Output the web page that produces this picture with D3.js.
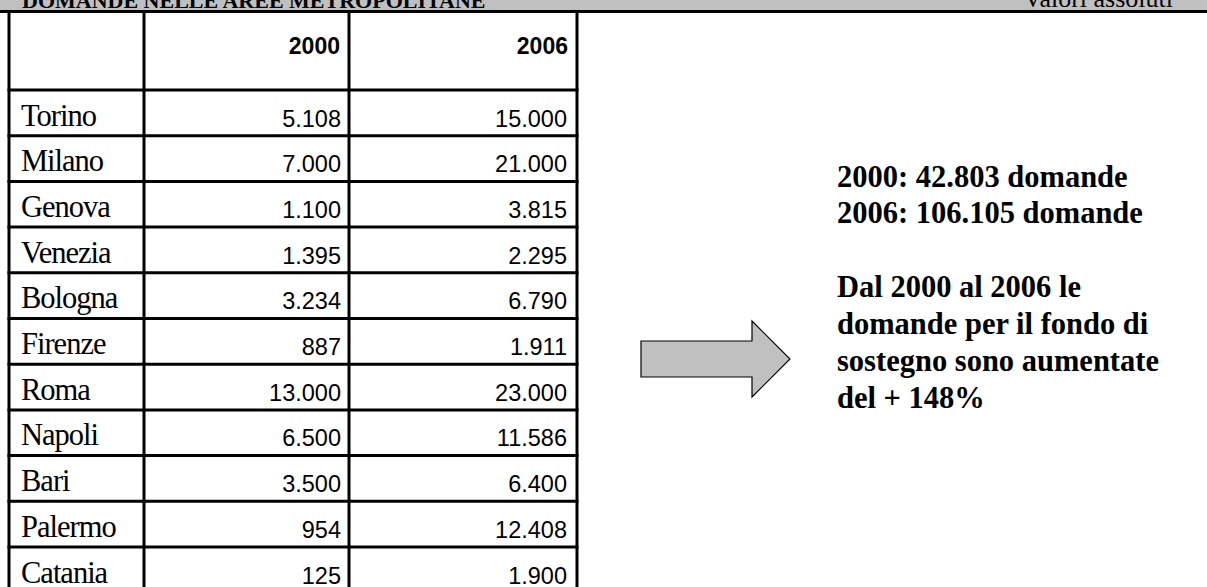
<!DOCTYPE html>
<html>
<head>
<meta charset="utf-8">
<script src="https://cdn.jsdelivr.net/npm/d3@7"></script>
<style>
    body { margin: 0; background: #fff; }
    svg { display: block; }
</style>
</head>
<body>
<svg id="chart" width="1207" height="587"></svg>
<script>
const title = "DOMANDE NELLE AREE METROPOLITANE";
const unitLabel = "Valori assoluti";
const years = ["2000", "2006"];
const cities = ["Torino", "Milano", "Genova", "Venezia", "Bologna", "Firenze", "Roma", "Napoli", "Bari", "Palermo", "Catania"];
const values2000 = [5108, 7000, 1100, 1395, 3234, 887, 13000, 6500, 3500, 954, 125];
const values2006 = [15000, 21000, 3815, 2295, 6790, 1911, 23000, 11586, 6400, 12408, 1900];

const itLocale = d3.formatLocale({ decimal: ",", thousands: ".", grouping: [3], currency: ["€", ""] });
const fmt = itLocale.format(",d");

const total2000 = d3.sum(values2000);
const total2006 = d3.sum(values2006);
const growth = Math.round((total2006 / total2000 - 1) * 100);

const summaryLines = [
    `2000: ${fmt(total2000)} domande`,
    `2006: ${fmt(total2006)} domande`,
    "",
    "Dal 2000 al 2006 le",
    "domande per il fondo di",
    "sostegno sono aumentate",
    `del + ${growth}%`
];

const rows = cities.map((c, i) => ({ city: c, v2000: values2000[i], v2006: values2006[i] }));

const svg = d3.select("#chart");
const width = 1207;

// top banner (title is cut by the top edge, as in the source page)
svg.append("rect")
    .attr("x", 0).attr("y", 0)
    .attr("width", width).attr("height", 11)
    .attr("fill", "#c0c0c0");

svg.append("text")
    .attr("x", 22).attr("y", 8)
    .attr("font-family", "'Liberation Serif', 'Times New Roman', serif")
    .attr("font-weight", "bold")
    .attr("font-size", 22)
    .text(title);

svg.append("text")
    .attr("x", 1173).attr("y", 7)
    .attr("text-anchor", "end")
    .attr("font-family", "'Liberation Serif', 'Times New Roman', serif")
    .attr("font-size", 26)
    .text(unitLabel);

svg.append("line")
    .attr("x1", 0).attr("x2", width)
    .attr("y1", 11.5).attr("y2", 11.5)
    .attr("stroke", "#000")
    .attr("stroke-width", 3);

// table
const colEdges = [9, 144, 349, 577];
const tableTop = 12;
const headerBottom = 90;
const rowHeight = 45.7;

const y = d3.scaleBand()
    .domain(cities)
    .range([headerBottom, headerBottom + rowHeight * cities.length]);

const g = svg.append("g");

g.selectAll(".year")
    .data(years)
    .enter()
    .append("text")
    .attr("class", "year")
    .attr("x", (d, i) => colEdges[i + 2] - 9)
    .attr("y", 54)
    .attr("text-anchor", "end")
    .attr("font-family", "'Liberation Sans', Arial, sans-serif")
    .attr("font-weight", "bold")
    .attr("font-size", 23)
    .text(d => d);

const rowG = g.selectAll(".row")
    .data(rows)
    .enter()
    .append("g")
    .attr("class", "row")
    .attr("transform", d => `translate(0,${y(d.city)})`);

rowG.append("text")
    .attr("x", colEdges[0] + 12)
    .attr("y", 35.5)
    .attr("font-family", "'Liberation Serif', 'Times New Roman', serif")
    .attr("font-size", 30.5)
    .attr("letter-spacing", -1)
    .text(d => d.city);

rowG.append("text")
    .attr("x", colEdges[2] - 8)
    .attr("y", 36.5)
    .attr("text-anchor", "end")
    .attr("font-family", "'Liberation Sans', Arial, sans-serif")
    .attr("font-size", 23.5)
    .text(d => fmt(d.v2000));

rowG.append("text")
    .attr("x", colEdges[3] - 10)
    .attr("y", 36.5)
    .attr("text-anchor", "end")
    .attr("font-family", "'Liberation Sans', Arial, sans-serif")
    .attr("font-size", 23.5)
    .text(d => fmt(d.v2006));

// grid lines
const tableBottom = y.range()[1];
g.selectAll(".hline")
    .data([headerBottom].concat(cities.map(c => y(c) + y.bandwidth())))
    .enter()
    .append("line")
    .attr("class", "hline")
    .attr("x1", colEdges[0] - 1.5).attr("x2", colEdges[3] + 1.5)
    .attr("y1", d => d).attr("y2", d => d)
    .attr("stroke", "#000")
    .attr("stroke-width", 3);

g.selectAll(".vline")
    .data(colEdges)
    .enter()
    .append("line")
    .attr("class", "vline")
    .attr("x1", d => d).attr("x2", d => d)
    .attr("y1", tableTop).attr("y2", tableBottom)
    .attr("stroke", "#000")
    .attr("stroke-width", 3);

// arrow
const arrow = [[641, 341], [752, 341], [752, 321], [790, 359], [752, 397], [752, 377], [641, 377]];
svg.append("path")
    .attr("d", d3.line()(arrow) + "Z")
    .attr("fill", "#c0c0c0")
    .attr("stroke", "#000")
    .attr("stroke-width", 1.2);

// summary text
const summary = svg.append("text")
    .attr("font-family", "'Liberation Serif', 'Times New Roman', serif")
    .attr("font-weight", "bold")
    .attr("font-size", 30.5);

const baselines = [187, 223, 0, 297, 334, 371, 408];
summary.selectAll("tspan")
    .data(summaryLines)
    .enter()
    .filter(d => d !== "")
    .append("tspan")
    .attr("x", 837)
    .attr("y", d => baselines[summaryLines.indexOf(d)])
    .text(d => d);
</script>
</body>
</html>
